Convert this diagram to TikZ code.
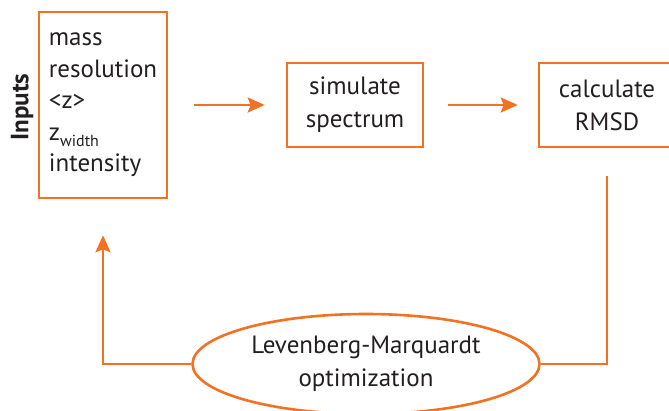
\documentclass[tikz,border=0pt]{standalone}
\usepackage{amsmath}
\usepackage{fontspec}
\setmainfont{PT Sans}
\usetikzlibrary{arrows.meta,shapes.geometric}
\definecolor{flow}{RGB}{242,113,34}
\definecolor{ink}{RGB}{35,31,32}
\newcommand{\lowsub}[1]{\raisebox{-6pt}{\fontsize{16}{16}\selectfont #1}}

\begin{document}
\begin{tikzpicture}[x=1pt,y=-1pt,node distance=252pt,
	every node/.style={text=ink,font=\fontsize{25}{33}\selectfont},
	box/.style={draw=flow,line width=2.6pt,align=center,inner sep=0pt,minimum width=136pt,minimum height=84pt},
	wire/.style={draw=flow,line width=2.6pt},
	link/.style={wire,-{Stealth[length=17pt,width=15pt,inset=3pt]}}]
	\useasboundingbox (0,0) rectangle (669,410);
	\node[box,align=left,font=\fontsize{25}{31.5}\selectfont,minimum width=128pt,minimum height=186pt] (inputs) at (103,105) {mass\\resolution\\<z>\\z\lowsub{width}\\intensity};
	\node[rotate=90,font=\bfseries\fontsize{25}{28}\selectfont] (title) at (22,107) {Inputs};
	\node[box] (sim) [right of=inputs] {simulate\\spectrum};
	\node[box] (calc) [right of=sim] {calculate\\RMSD};
	\node[wire,ellipse,align=center,inner sep=0pt,minimum width=347pt,minimum height=100pt] (lm) at (366,364) {Levenberg-Marquardt\\optimization};
	\draw[link,shorten <=26pt,shorten >=21pt] (inputs) -- (sim);
	\draw[link,shorten <=24pt,shorten >=20pt] (sim) -- (calc);
	\draw[wire,shorten <=28pt] (calc.south) |- (lm.east);
	\draw[link,shorten >=36pt] (lm.west) -| (inputs.south);
\end{tikzpicture}
\end{document}
